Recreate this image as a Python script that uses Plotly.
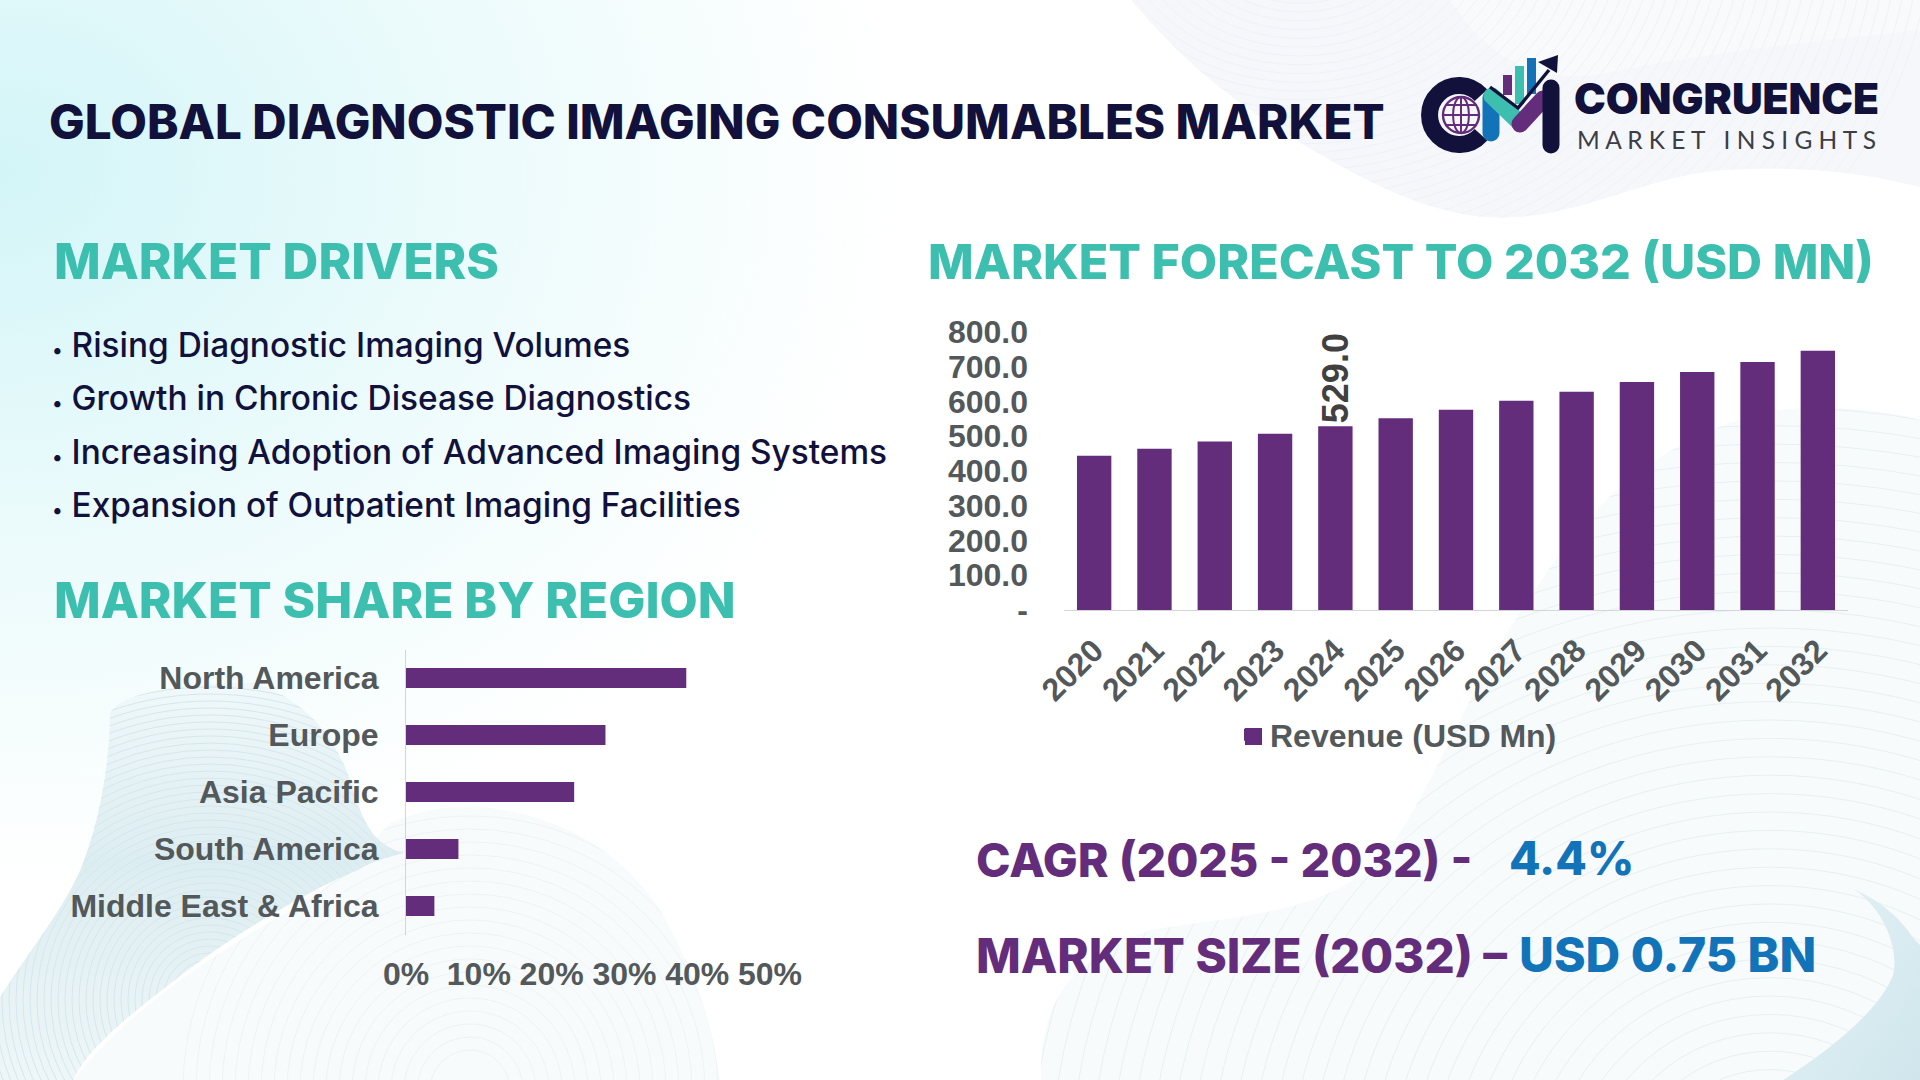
import base64
import plotly.graph_objects as go

# market forecast
years = ['2020', '2021', '2022', '2023', '2024', '2025', '2026', '2027', '2028', '2029', '2030', '2031', '2032']
revenue = [444, 464, 485, 507, 529, 552, 576, 602, 628, 656, 685, 714, 746]
labeled_year = '2024'
y_ticks = [0, 100, 200, 300, 400, 500, 600, 700, 800]
y_tick_text = ['-', '100.0', '200.0', '300.0', '400.0', '500.0', '600.0', '700.0', '800.0']

# share by region
regions = ['North America', 'Europe', 'Asia Pacific', 'South America', 'Middle East & Africa']
shares = [38.5, 27.4, 23.1, 7.2, 3.9]
share_ticks = [0, 10, 20, 30, 40, 50]
share_tick_text = ['0%', '10%', '20%', '30%', '40%', '50%']

drivers = ['Rising Diagnostic Imaging Volumes', 'Growth in Chronic Disease Diagnostics',
           'Increasing Adoption of Advanced Imaging Systems', 'Expansion of Outpatient Imaging Facilities']

W, H = 1920, 1080
PURPLE = '#642d7c'
TEAL = '#3cbfae'
BLUE = '#1273b8'
NAVY = '#11113c'
GREY = '#53585b'


def arcs(cx, cy, r_from, r_to, step, squash=1.0, color='#dfeaee'):
    out = ''
    r = r_from
    while r < r_to:
        out += f'<ellipse cx="{cx}" cy="{cy}" rx="{r}" ry="{r * squash:.1f}" fill="none" stroke="{color}" stroke-width="1"/>'
        r += step
    return out


# background art and logo, drawn once as one svg
svg = f'''<svg xmlns="http://www.w3.org/2000/svg" width="{W}" height="{H}" viewBox="0 0 {W} {H}">
<defs>
<radialGradient id="sky" gradientUnits="userSpaceOnUse" cx="0" cy="170" r="900" gradientTransform="translate(0 170) scale(1 .8) translate(0 -170)">
<stop offset="0" stop-color="#d3f5f8"/><stop offset=".45" stop-color="#e9fafb"/><stop offset="1" stop-color="#ffffff"/>
</radialGradient>
<linearGradient id="band" x1="0" y1="0" x2="0" y2="1"><stop offset="0" stop-color="#f0f8fa"/><stop offset=".45" stop-color="#dcedf1"/><stop offset="1" stop-color="#eef6f8"/></linearGradient>
<linearGradient id="corner" x1="0" y1="0" x2="1" y2="1"><stop offset="0" stop-color="#e6f3f6"/><stop offset="1" stop-color="#cfe6ec"/></linearGradient>
<clipPath id="topc"><path id="toppath" d="M1131 0 C1170 45 1215 95 1330 160 C1400 200 1460 222 1518 217 C1590 212 1660 172 1728 170 C1800 166 1860 172 1920 187 L1920 0 Z"/></clipPath>
<clipPath id="bigc"><path d="M1041 1080 C1040 1010 1060 965 1150 930 C1240 915 1320 915 1380 860 C1430 800 1470 680 1533 594 C1590 500 1660 440 1767 411 C1820 405 1880 408 1920 420 L1920 1080 Z"/></clipPath>
<clipPath id="leftc"><path d="M0 1080 L0 997 C30 950 70 900 83 863 C100 820 110 760 110 713 C125 690 190 683 252 683 C300 695 335 735 350 780 C362 820 372 845 404 853 C385 858 370 862 358 870 C320 885 240 930 184 973 C130 1015 90 1045 73 1080 Z"/></clipPath>
<clipPath id="moundc"><path d="M73 1080 C120 1020 200 960 300 905 C340 880 365 850 390 823 C420 810 450 805 482 807 C560 815 620 850 660 910 C690 960 712 1020 720 1080 Z"/></clipPath>
</defs>
<rect width="{W}" height="{H}" fill="#ffffff"/>
<rect width="{W}" height="{H}" fill="url(#sky)"/>
<path d="M1131 0 C1170 45 1215 95 1330 160 C1400 200 1460 222 1518 217 C1590 212 1660 172 1728 170 C1800 166 1860 172 1920 187 L1920 0 Z" fill="#f5f7fb"/>
<path d="M1450 0 C1490 60 1540 90 1620 70 C1730 50 1820 40 1920 30 L1920 0 Z" fill="#f9fafc"/>
<g clip-path="url(#topc)">{arcs(1300, -80, 60, 640, 11, 0.8, '#eef2f6')}</g>
<path d="M1041 1080 C1040 1010 1060 965 1150 930 C1240 915 1320 915 1380 860 C1430 800 1470 680 1533 594 C1590 500 1660 440 1767 411 C1820 405 1880 408 1920 420 L1920 1080 Z" fill="#f7fbfc"/>
<g clip-path="url(#bigc)">{arcs(1770, 1180, 60, 900, 20, 0.92, '#e8f0f3')}</g>
<path d="M1853 889 C1880 900 1900 918 1913 938 L1920 945 L1920 1080 L1783 1080 C1830 1050 1880 1010 1893 975 C1900 945 1880 905 1853 889 Z" fill="url(#corner)"/>
<path d="M73 1080 C120 1020 200 960 300 905 C340 880 365 850 390 823 C420 810 450 805 482 807 C560 815 620 850 660 910 C690 960 712 1020 720 1080 Z" fill="#f8fbfb"/>
<g clip-path="url(#moundc)">{arcs(470, 1090, 40, 300, 13, 1.0, '#edf3f4')}</g>
<path d="M0 1080 L0 997 C30 950 70 900 83 863 C100 820 110 760 110 713 C125 690 190 683 252 683 C300 695 335 735 350 780 C362 820 372 845 404 853 C385 858 370 862 358 870 C320 885 240 930 184 973 C130 1015 90 1045 73 1080 Z" fill="url(#band)"/>
<g clip-path="url(#leftc)">{arcs(210, 1000, 40, 340, 7, 1.0, '#d5e7eb')}</g>
<rect x="1245" y="728" width="17" height="17" fill="{PURPLE}"/>
<g fill="none" stroke-linecap="round">
<path d="M1481 95.3 A29.5 29.5 0 1 0 1481 134.7" stroke="{NAVY}" stroke-width="17" stroke-linecap="butt"/>
<circle cx="1461" cy="115" r="18" stroke="{PURPLE}" stroke-width="2.4"/>
<ellipse cx="1461" cy="115" rx="8" ry="18" stroke="{PURPLE}" stroke-width="2"/>
<path d="M1461 97 V133 M1443 115 H1479 M1446 105 H1476 M1446 125 H1476" stroke="{PURPLE}" stroke-width="2"/>
<rect x="1503" y="75" width="9" height="20" fill="{PURPLE}" stroke="none"/>
<rect x="1515" y="66" width="9" height="38" fill="{TEAL}" stroke="none"/>
<rect x="1527" y="58" width="9" height="36" fill="{BLUE}" stroke="none"/>
<path d="M1491 98 V133" stroke="{BLUE}" stroke-width="17"/>
<path d="M1492 96 L1519 122" stroke="{TEAL}" stroke-width="17"/>
<path d="M1520 124 L1543 99" stroke="{PURPLE}" stroke-width="17"/>
<path d="M1551 88 V145" stroke="{NAVY}" stroke-width="17"/>
<path d="M1490 87 L1518 108 L1549 70" stroke="{NAVY}" stroke-width="3.4" stroke-linecap="butt"/>
<path d="M1558 55 L1538 62 L1557 73 Z" fill="{NAVY}" stroke="none"/>
</g>
</svg>'''
background = 'data:image/svg+xml;base64,' + base64.b64encode(svg.encode()).decode()

fig = go.Figure()

fig.add_trace(go.Bar(
    x=shares, y=regions, orientation='h', xaxis='x', yaxis='y',
    marker=dict(color=PURPLE, line=dict(width=0)), showlegend=False, hoverinfo='skip',
))
fig.add_trace(go.Bar(
    x=years, y=revenue, xaxis='x2', yaxis='y2', name='Revenue (USD Mn)',
    marker=dict(color=PURPLE, line=dict(width=0)),
    text=[f'{v:.1f}' if yr == labeled_year else '' for yr, v in zip(years, revenue)],
    textposition='outside', textangle=-90, cliponaxis=False, constraintext='none',
    textfont=dict(family='Liberation Sans', size=36, color='#404040', weight=700),
    hoverinfo='skip',
))


def px_x(x):
    return x / W


def px_y(y):
    return 1 - y / H


def label(text, x, y, size, color, family='Inter', weight=800, anchor='left'):
    return dict(text=text, x=px_x(x), y=px_y(y), xref='paper', yref='paper', showarrow=False,
                xanchor=anchor, yanchor='middle', borderpad=0, align='left',
                font=dict(family=family, size=size, color=color, weight=weight))


notes = [
    label('GLOBAL DIAGNOSTIC IMAGING CONSUMABLES MARKET', 48, 122, 47.5, NAVY),
    label('CONGRUENCE', 1573, 98, 42.5, NAVY, weight=900),
    label('M A R K E T   I N S I G H T S', 1576, 139, 24.5, '#3d3d45', family='Lato', weight=400),
    label('MARKET DRIVERS', 53, 261, 49.5, TEAL),
    label('MARKET FORECAST TO 2032 (USD MN)', 927, 261, 48.4, TEAL),
    label('MARKET SHARE BY REGION', 53, 600, 49.5, TEAL),
    label('CAGR (2025 - 2032) -', 975, 860, 46.5, PURPLE),
    label('4.4%', 1508, 858, 46, BLUE),
    label('MARKET SIZE (2032) –', 975, 955, 47.5, PURPLE),
    label('USD 0.75 BN', 1518, 954, 48, BLUE),
]
for row, text in zip([345, 398, 452, 505], drivers):
    notes.append(label('<span style="font-size:20px">•</span> ' + text, 51, row, 33.4, NAVY, weight=500))

axis_font = dict(family='Liberation Sans', size=32, color=GREY, weight=700)

fig.update_layout(
    width=W, height=H, margin=dict(l=0, r=0, t=0, b=0, autoexpand=False),
    paper_bgcolor='rgba(0,0,0,0)', plot_bgcolor='rgba(0,0,0,0)',
    images=[dict(source=background, xref='paper', yref='paper', x=0, y=1, sizex=1, sizey=1,
                 xanchor='left', yanchor='top', sizing='stretch', layer='below')],
    annotations=notes,
    bargap=0.65,
    xaxis=dict(domain=[px_x(406), px_x(770)], range=[0, 50], tickvals=share_ticks, ticktext=share_tick_text,
               showgrid=False, zeroline=False, showline=False, tickfont=axis_font, ticks='',
               ticklabelstandoff=17, anchor='y'),
    yaxis=dict(domain=[px_y(934.5), px_y(649.5)], type='category', autorange='reversed', showgrid=False,
               zeroline=False, showline=True, linecolor='#d4d4da', linewidth=1, tickfont=axis_font,
               ticks='', ticklabelstandoff=20, anchor='x'),
    xaxis2=dict(domain=[px_x(1064), px_x(1848)], type='category', tickangle=-45, showgrid=False, zeroline=False,
                showline=True, linecolor='#d4d4da', linewidth=1, tickfont=axis_font, ticks='',
                ticklabelstandoff=8, anchor='y2'),
    yaxis2=dict(domain=[px_y(610), px_y(332)], range=[0, 800], tickvals=y_ticks, ticktext=y_tick_text,
                showgrid=False, zeroline=False, showline=False, tickfont=axis_font, ticks='',
                ticklabelstandoff=35, anchor='x2'),
    legend=dict(x=px_x(1230), y=px_y(735), xanchor='left', yanchor='middle', orientation='h',
                font=dict(family='Liberation Sans', size=32, color=GREY, weight=700),
                bgcolor='rgba(0,0,0,0)', itemwidth=30),
    showlegend=True,
)

# bars of the two charts sit at different gaps, the forecast one is set per trace width
fig.update_traces(width=0.57, selector=dict(name='Revenue (USD Mn)'))

fig.write_html('out.html', config={'displayModeBar': False},
               post_script="document.body.style.margin='0';document.body.style.overflow='hidden';")
